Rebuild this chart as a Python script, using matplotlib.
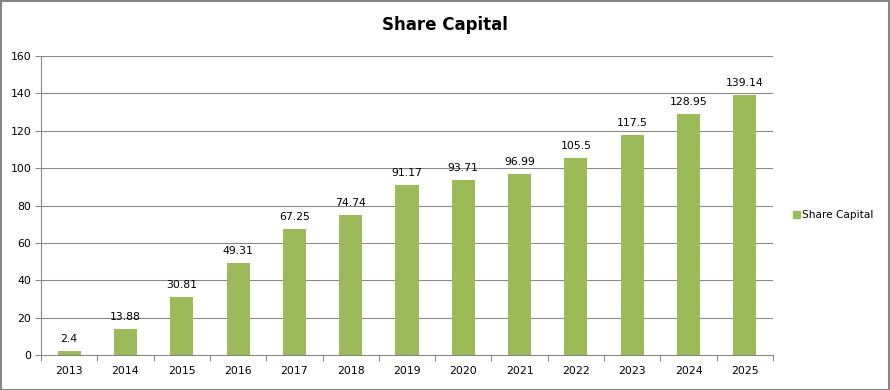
import matplotlib
matplotlib.use("Agg")
import matplotlib.pyplot as plt
from matplotlib.patches import Rectangle

years = ["2013", "2014", "2015", "2016", "2017", "2018", "2019", "2020", "2021", "2022", "2023", "2024", "2025"]
values = [2.4, 13.88, 30.81, 49.31, 67.25, 74.74, 91.17, 93.71, 96.99, 105.5, 117.5, 128.95, 139.14]
labels = ["2.4", "13.88", "30.81", "49.31", "67.25", "74.74", "91.17", "93.71", "96.99", "105.5", "117.5", "128.95", "139.14"]
series_name = "Share Capital"
yticks = [0, 20, 40, 60, 80, 100, 120, 140, 160]

plt.rcParams['font.family'] = ['DejaVu Sans']
W, H = 890, 390
fig = plt.figure(figsize=(W/100, H/100), dpi=100)
# plot area pixels: left 41, right 773, top 56, bottom 355
ax = fig.add_axes([41/W, 1-355/H, (773-41)/W, (355-56)/H])

bar_color = "#9BBB59"
x = list(range(len(years)))
ax.bar(x, values, width=0.41, color=bar_color, zorder=3, label=series_name)
for xi, v, lab in zip(x, values, labels):
    ax.annotate(lab, (xi, v), xytext=(0, 5), textcoords="offset points",
                ha="center", va="bottom", fontsize=7.8, color="#000000")

ax.set_xlim(-0.5, len(years)-0.5)
ax.set_ylim(0, 160)
ax.set_yticks(yticks)
ax.set_yticklabels([str(t) for t in yticks], fontsize=7.8)
ax.set_xticks([i - 0.5 for i in range(len(years)+1)], minor=False)
ax.set_xticklabels([])
ax.set_xticks(x, minor=True)
ax.set_xticklabels(years, minor=True, fontsize=7.8)
ax.tick_params(axis="x", which="major", length=4, color="#868686", width=0.75)
ax.tick_params(axis="x", which="minor", length=0, pad=8)
ax.tick_params(axis="y", length=4, color="#868686", width=0.75, pad=3)
ax.grid(axis="y", color="#868686", linewidth=0.75, zorder=0)
for s in ["top", "right"]:
    ax.spines[s].set_visible(False)
ax.spines["left"].set_color("#868686")
ax.spines["bottom"].set_color("#868686")
ax.spines["left"].set_linewidth(0.75)
ax.spines["bottom"].set_linewidth(0.75)

fig.text(0.5, 1-25/H, "Share Capital", ha="center", va="center", fontsize=12, fontweight="bold")

# legend
fig.legend(handles=[Rectangle((0, 0), 1, 1, color=bar_color)], labels=[series_name],
           loc="center left", bbox_to_anchor=(783/W, 1-215/H), frameon=False,
           fontsize=7.6, handlelength=0.7, handleheight=0.7, handletextpad=0.2)

# outer border
fig.add_artist(Rectangle((0.5/W, 0.5/H), 1-1.5/W, 1-1.5/H, transform=fig.transFigure,
                         fill=False, edgecolor="#868686", linewidth=1.5))

fig.savefig("out.png", dpi=100)
